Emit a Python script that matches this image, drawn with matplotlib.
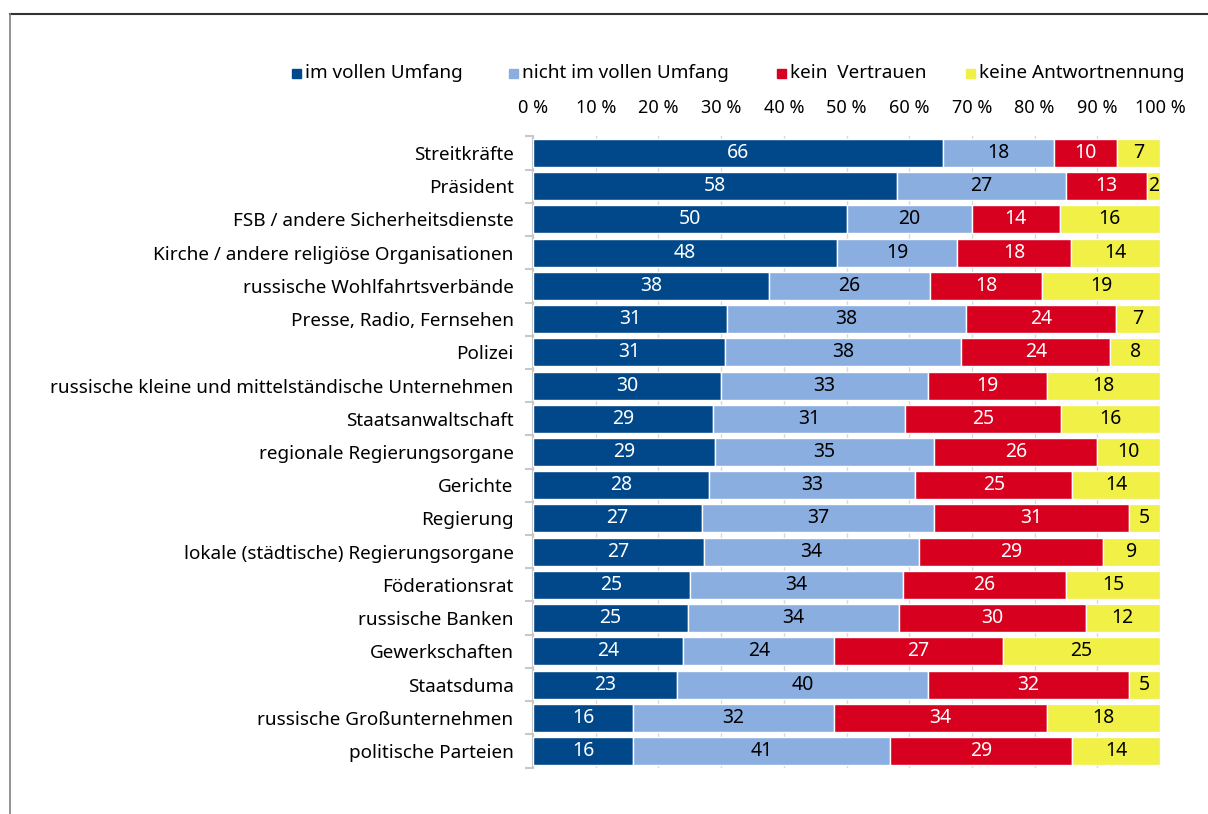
import matplotlib.pyplot as plt
from matplotlib.patches import Rectangle
from matplotlib.lines import Line2D
import numpy as np

plt.rcParams['font.family'] = ['Noto Sans', 'DejaVu Sans']

institutions = [
    "Streitkräfte",
    "Präsident",
    "FSB / andere Sicherheitsdienste",
    "Kirche / andere religiöse Organisationen",
    "russische Wohlfahrtsverbände",
    "Presse, Radio, Fernsehen",
    "Polizei",
    "russische kleine und mittelständische Unternehmen",
    "Staatsanwaltschaft",
    "regionale Regierungsorgane",
    "Gerichte",
    "Regierung",
    "lokale (städtische) Regierungsorgane",
    "Föderationsrat",
    "russische Banken",
    "Gewerkschaften",
    "Staatsduma",
    "russische Großunternehmen",
    "politische Parteien",
]

voll = [66, 58, 50, 48, 38, 31, 31, 30, 29, 29, 28, 27, 27, 25, 25, 24, 23, 16, 16]
nicht_voll = [18, 27, 20, 19, 26, 38, 38, 33, 31, 35, 33, 37, 34, 34, 34, 24, 40, 32, 41]
kein = [10, 13, 14, 18, 18, 24, 24, 19, 25, 26, 25, 31, 29, 26, 30, 27, 32, 34, 29]
keine_antwort = [7, 2, 16, 14, 19, 7, 8, 18, 16, 10, 14, 5, 9, 15, 12, 25, 5, 18, 14]

series_names = ["im vollen Umfang", "nicht im vollen Umfang", "kein  Vertrauen", "keine Antwortnennung"]
colors = ["#00488a", "#8aaee0", "#d7001f", "#f0f046"]
text_colors = ["white", "black", "white", "black"]

W, H = 1208, 814
fig = plt.figure(figsize=(W / 100, H / 100), dpi=100)
ax = fig.add_axes([533 / W, 1 - 767.6 / H, (1160 - 533) / W, (767.6 - 136.4) / H])

data = np.array([voll, nicht_voll, kein, keine_antwort], dtype=float)
totals = data.sum(axis=0)
shares = data / totals * 100
y = np.arange(len(institutions))

left = np.zeros(len(institutions))
for i, name in enumerate(series_names):
    ax.barh(y, shares[i], left=left, height=0.84, color=colors[i],
            edgecolor="white", linewidth=1.0, zorder=3)
    for j in range(len(institutions)):
        ax.text(left[j] + shares[i][j] / 2, y[j], f"{int(data[i][j])}",
                ha="center", va="center", color=text_colors[i],
                fontsize=14, zorder=4)
    left += shares[i]

ax.set_xlim(0, 100)
ax.set_ylim(len(institutions) - 0.5, -0.5)

# percent scale on top, light vertical grid behind the bars
ax.xaxis.tick_top()
ax.set_xticks(np.arange(0, 101, 10))
ax.set_xticklabels([f"{v} %" for v in range(0, 101, 10)], fontsize=13)
ax.tick_params(axis="x", length=0, pad=14)
ax.grid(axis="x", color="#d9d9d9", linewidth=1.0, zorder=0)

ax.set_yticks(y)
ax.set_yticklabels(institutions, fontsize=13.6)
ax.set_yticks(np.arange(-0.5, len(institutions), 1), minor=True)
ax.tick_params(axis="y", which="major", length=0, pad=14)
ax.tick_params(axis="y", which="minor", length=6, color="#c8c8c8", width=1.5)

for side in ["top", "right", "bottom"]:
    ax.spines[side].set_visible(False)
ax.spines["left"].set_color("#c8c8c8")
ax.spines["left"].set_linewidth(1.5)

# legend row
legend_x = [292, 509, 777, 966]
for xpos, name, c in zip(legend_x, series_names, colors):
    fig.patches.append(Rectangle((xpos / W, 1 - 78 / H), 9 / W, 9 / H,
                                 transform=fig.transFigure, color=c))
    fig.text((xpos + 13) / W, 1 - 73 / H, name, fontsize=13.6, va="center", ha="left")

# outer frame
fig.add_artist(Line2D([10 / W, 1], [1 - 14 / H, 1 - 14 / H], color="#333333", linewidth=1.5))
fig.add_artist(Line2D([10 / W, 10 / W], [0, 1 - 14 / H], color="#808080", linewidth=1.2))

fig.savefig("out.png", dpi=100)
